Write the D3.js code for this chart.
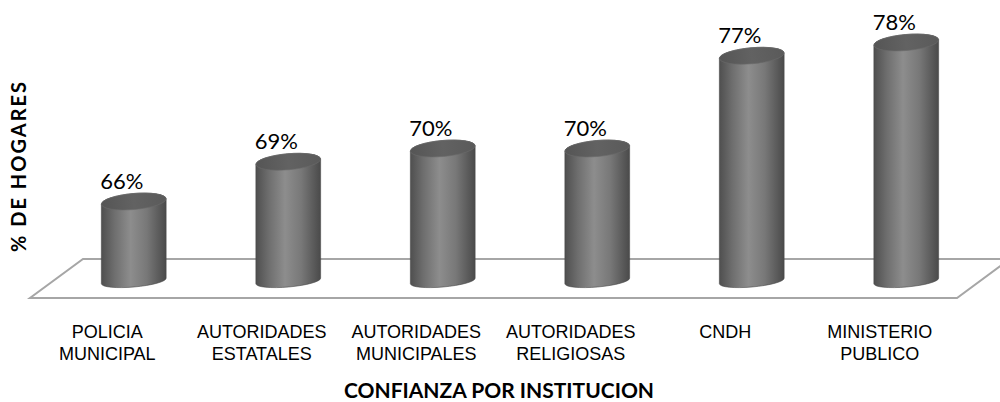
<!DOCTYPE html>
<html lang="es">
<head>
<meta charset="UTF-8">
<title>Confianza por institucion</title>
<script src="https://d3js.org/d3.v7.min.js"></script>
<style>
  body { margin: 0; background: #fff; }
  svg { display: block; }
</style>
</head>
<body>
<svg id="chart" width="1000" height="402"></svg>
<script>
  // data
  const categories = [
    ["POLICIA", "MUNICIPAL"],
    ["AUTORIDADES", "ESTATALES"],
    ["AUTORIDADES", "MUNICIPALES"],
    ["AUTORIDADES", "RELIGIOSAS"],
    ["CNDH"],
    ["MINISTERIO", "PUBLICO"]
  ];
  const values = [66, 69, 70, 70, 77, 78];
  const valueLabels = ["66%", "69%", "70%", "70%", "77%", "78%"];
  const yDomain = [60, 80];

  const svg = d3.select("#chart");
  const keys = categories.map(c => c.join(" "));

  // floor front edge and depth offset
  const front = { x0: 30, x1: 957, y: 298 };
  const depth = { dx: 53, dy: -39 };

  const x = d3.scaleBand().domain(keys).range([front.x0, front.x1]);
  const baseY = 281;   // cylinder bottom centre
  const y = d3.scaleLinear().domain(yDomain).range([baseY, baseY - 265]);

  const defs = svg.append("defs");
  const bodyGrad = defs.append("linearGradient").attr("id", "bodyGrad")
    .attr("x1", 0).attr("x2", 1).attr("y1", 0).attr("y2", 0);
  [[0, "#4f4f4f"], [0.2, "#6e6e6e"], [0.45, "#8d8d8d"], [0.7, "#787878"], [1, "#4a4a4a"]]
    .forEach(s => bodyGrad.append("stop").attr("offset", s[0]).attr("stop-color", s[1]));
  const capGrad = defs.append("linearGradient").attr("id", "capGrad")
    .attr("x1", 0).attr("x2", 1).attr("y1", 0).attr("y2", 0);
  [[0, "#555"], [0.5, "#626262"], [1, "#5a5a5a"]]
    .forEach(s => capGrad.append("stop").attr("offset", s[0]).attr("stop-color", s[1]));

  // floor
  svg.append("polygon")
    .attr("points", [
      [front.x0, front.y], [front.x1, front.y],
      [front.x1 + depth.dx, front.y + depth.dy], [front.x0 + depth.dx, front.y + depth.dy]
    ].map(p => p.join(",")).join(" "))
    .attr("fill", "#fff")
    .attr("stroke", "#a6a6a6")
    .attr("stroke-width", 2);

  // cylinders
  const rx = 32.5, topRy = 8, botRy = 6, rot = -5;
  const c = Math.cos(rot * Math.PI / 180), s = Math.sin(rot * Math.PI / 180);

  const bars = svg.append("g").selectAll("g").data(values).join("g")
    .attr("transform", (d, i) => `translate(${x(keys[i]) + x.bandwidth() / 2 + depth.dx / 2},0)`);

  bars.append("path")
    .attr("d", d => {
      const yt = y(d), yb = y(yDomain[0]);
      return `M${-rx * c},${yt - rx * s} L${-rx * c},${yb - rx * s}` +
        ` A${rx},${botRy} ${rot} 0 0 ${rx * c},${yb + rx * s}` +
        ` L${rx * c},${yt + rx * s} A${rx},${topRy} ${rot} 0 0 ${-rx * c},${yt - rx * s} Z`;
    })
    .attr("fill", "url(#bodyGrad)")
    .attr("stroke", "#4a4a4a")
    .attr("stroke-width", 0.6);

  bars.append("ellipse")
    .attr("cx", 0).attr("cy", d => y(d))
    .attr("rx", rx).attr("ry", topRy)
    .attr("transform", d => `rotate(${rot},0,${y(d)})`)
    .attr("fill", "url(#capGrad)")
    .attr("stroke", "#6a6a6a")
    .attr("stroke-width", 0.6);

  bars.append("text")
    .attr("x", -12)
    .attr("y", d => y(d) - 13)
    .attr("text-anchor", "middle")
    .attr("font-family", "Lato, 'Open Sans', sans-serif")
    .attr("font-size", 22)
    .attr("fill", "#000")
    .text((d, i) => valueLabels[i]);

  // category labels
  const labels = svg.append("g")
    .attr("font-family", "'Liberation Sans', Arial, sans-serif")
    .attr("font-size", 18)
    .attr("text-anchor", "middle")
    .attr("fill", "#000");
  categories.forEach((lines, i) => {
    const t = labels.append("text")
      .attr("x", x(keys[i]) + x.bandwidth() / 2)
      .attr("y", 338);
    lines.forEach((ln, j) => t.append("tspan")
      .attr("x", x(keys[i]) + x.bandwidth() / 2)
      .attr("dy", j === 0 ? 0 : 22)
      .text(ln));
  });

  // axis titles
  svg.append("text")
    .attr("x", 499).attr("y", 398)
    .attr("text-anchor", "middle")
    .attr("font-family", "Lato, 'Open Sans', sans-serif")
    .attr("font-weight", "bold")
    .attr("font-size", 21)
    .text("CONFIANZA POR INSTITUCION");

  svg.append("text")
    .attr("transform", "translate(26,167) rotate(-90)")
    .attr("text-anchor", "middle")
    .attr("font-family", "Lato, 'Open Sans', sans-serif")
    .attr("font-weight", "bold")
    .attr("font-size", 20)
    .attr("textLength", 170)
    .attr("lengthAdjust", "spacing")
    .text("% DE HOGARES");
</script>
</body>
</html>
